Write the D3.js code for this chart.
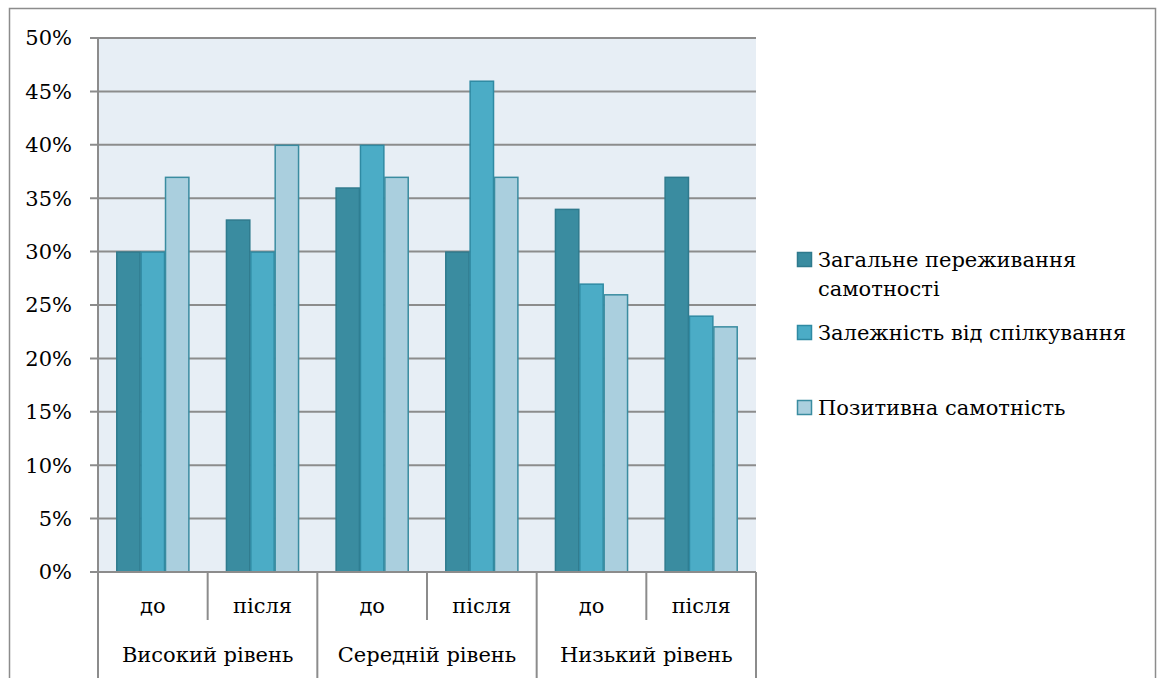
<!DOCTYPE html>
<html>
<head>
<meta charset="utf-8">
<script src="https://cdn.jsdelivr.net/npm/d3@7"></script>
<style>
  html, body { margin: 0; padding: 0; background: #ffffff; }
  svg { display: block; }
</style>
</head>
<body>
<svg id="chart" width="1159" height="678"></svg>
<script>
// Levels and stages (two-row category axis)
const levels = ["Високий рівень", "Середній рівень", "Низький рівень"];
const stages = ["до", "після"];
const seriesNames = ["Загальне переживання самотності", "Залежність від спілкування", "Позитивна самотність"];

// Percent values per series, ordered level by level, "до" then "після"
const generalLoneliness = [30, 33, 36, 30, 34, 37];
const communicationDependence = [30, 30, 40, 46, 27, 24];
const positiveSolitude = [37, 40, 37, 37, 26, 23];

const yTicks = [0, 5, 10, 15, 20, 25, 30, 35, 40, 45, 50];

const colors = ["#3a8ca0", "#4bacc6", "#aacfde"];
const strokes = ["#2f7a8d", "#2f8aa3", "#3a8ca0"];
const FONT = "'DejaVu Serif', serif";
const FS = 21;

const svg = d3.select("#chart");
const W = 1159, H = 678;

// outer chart frame
svg.append("rect")
  .attr("x", 9.5).attr("y", 8.5)
  .attr("width", 1146).attr("height", 700)
  .attr("fill", "#ffffff").attr("stroke", "#8c8c8c").attr("stroke-width", 1.5);

const plot = { left: 98, right: 756, top: 38, bottom: 572 };

const categories = [];
levels.forEach(l => stages.forEach(s => categories.push(l + "|" + s)));

const x = d3.scaleBand().domain(categories).range([plot.left, plot.right]).paddingInner(0).paddingOuter(0);
const y = d3.scaleLinear().domain([0, 50]).range([plot.bottom, plot.top]);

// plot background
svg.append("rect")
  .attr("x", plot.left).attr("y", plot.top)
  .attr("width", plot.right - plot.left).attr("height", plot.bottom - plot.top)
  .attr("fill", "#e7eef5");

// horizontal gridlines
svg.append("g").selectAll("line").data(yTicks.filter(t => t > 0)).join("line")
  .attr("x1", plot.left - 8).attr("x2", plot.right)
  .attr("y1", d => y(d)).attr("y2", d => y(d))
  .attr("stroke", "#8c8c8c").attr("stroke-width", 2);

// y-axis labels
svg.append("g").selectAll("text").data(yTicks).join("text")
  .attr("x", 72).attr("y", d => y(d))
  .attr("dy", "0.35em")
  .attr("text-anchor", "end")
  .attr("font-family", FONT)
  .attr("font-size", FS)
  .text(d => d + "%");

// bars
const series = [generalLoneliness, communicationDependence, positiveSolitude];
const sub = d3.scaleBand().domain(d3.range(3)).range([0, x.bandwidth()]).paddingInner(0).paddingOuter(0.75);

series.forEach((vals, si) => {
  svg.append("g").selectAll("rect").data(vals).join("rect")
    .attr("x", (d, i) => x(categories[i]) + sub(si) + 0.5)
    .attr("y", d => y(d) + 0.5)
    .attr("width", sub.bandwidth() - 1)
    .attr("height", d => y(0) - y(d) - 0.5)
    .attr("fill", colors[si])
    .attr("stroke", strokes[si])
    .attr("stroke-width", 1.5);
});

// axes lines
svg.append("line")
  .attr("x1", plot.left).attr("x2", plot.left)
  .attr("y1", plot.top).attr("y2", H)
  .attr("stroke", "#8c8c8c").attr("stroke-width", 2);
svg.append("line")
  .attr("x1", plot.left - 8).attr("x2", plot.right)
  .attr("y1", plot.bottom).attr("y2", plot.bottom)
  .attr("stroke", "#8c8c8c").attr("stroke-width", 2);

// category dividers
categories.forEach((c, i) => {
  if (i === 0) return;
  const xx = x(c);
  const full = i % 2 === 0;
  svg.append("line")
    .attr("x1", xx).attr("x2", xx)
    .attr("y1", plot.bottom).attr("y2", full ? H : 620)
    .attr("stroke", "#8c8c8c").attr("stroke-width", 2);
});
svg.append("line")
  .attr("x1", plot.right).attr("x2", plot.right)
  .attr("y1", plot.bottom).attr("y2", H)
  .attr("stroke", "#8c8c8c").attr("stroke-width", 2);

// stage labels
svg.append("g").selectAll("text").data(categories).join("text")
  .attr("x", d => x(d) + x.bandwidth() / 2)
  .attr("y", 613)
  .attr("text-anchor", "middle")
  .attr("font-family", FONT)
  .attr("font-size", FS)
  .text(d => d.split("|")[1]);

// level labels
svg.append("g").selectAll("text").data(levels).join("text")
  .attr("x", (d, i) => x(categories[i * 2]) + x.bandwidth())
  .attr("y", 662)
  .attr("text-anchor", "middle")
  .attr("font-family", FONT)
  .attr("font-size", FS)
  .text(d => d);

// legend
const legendItems = [
  { lines: ["Загальне переживання", "самотності"], y: 260 },
  { lines: ["Залежність від спілкування"], y: 333 },
  { lines: ["Позитивна самотність"], y: 408 }
];
legendItems.forEach((item, i) => {
  const g = svg.append("g");
  g.append("rect")
    .attr("x", 797.5).attr("y", item.y - 7.5)
    .attr("width", 14).attr("height", 14)
    .attr("fill", colors[i]).attr("stroke", strokes[i]).attr("stroke-width", 1.5);
  item.lines.forEach((ln, j) => {
    g.append("text")
      .attr("x", 818).attr("y", item.y + j * 29)
      .attr("dy", "0.35em")
      .attr("font-family", FONT)
      .attr("font-size", FS)
      .text(ln);
  });
});
</script>
</body>
</html>
